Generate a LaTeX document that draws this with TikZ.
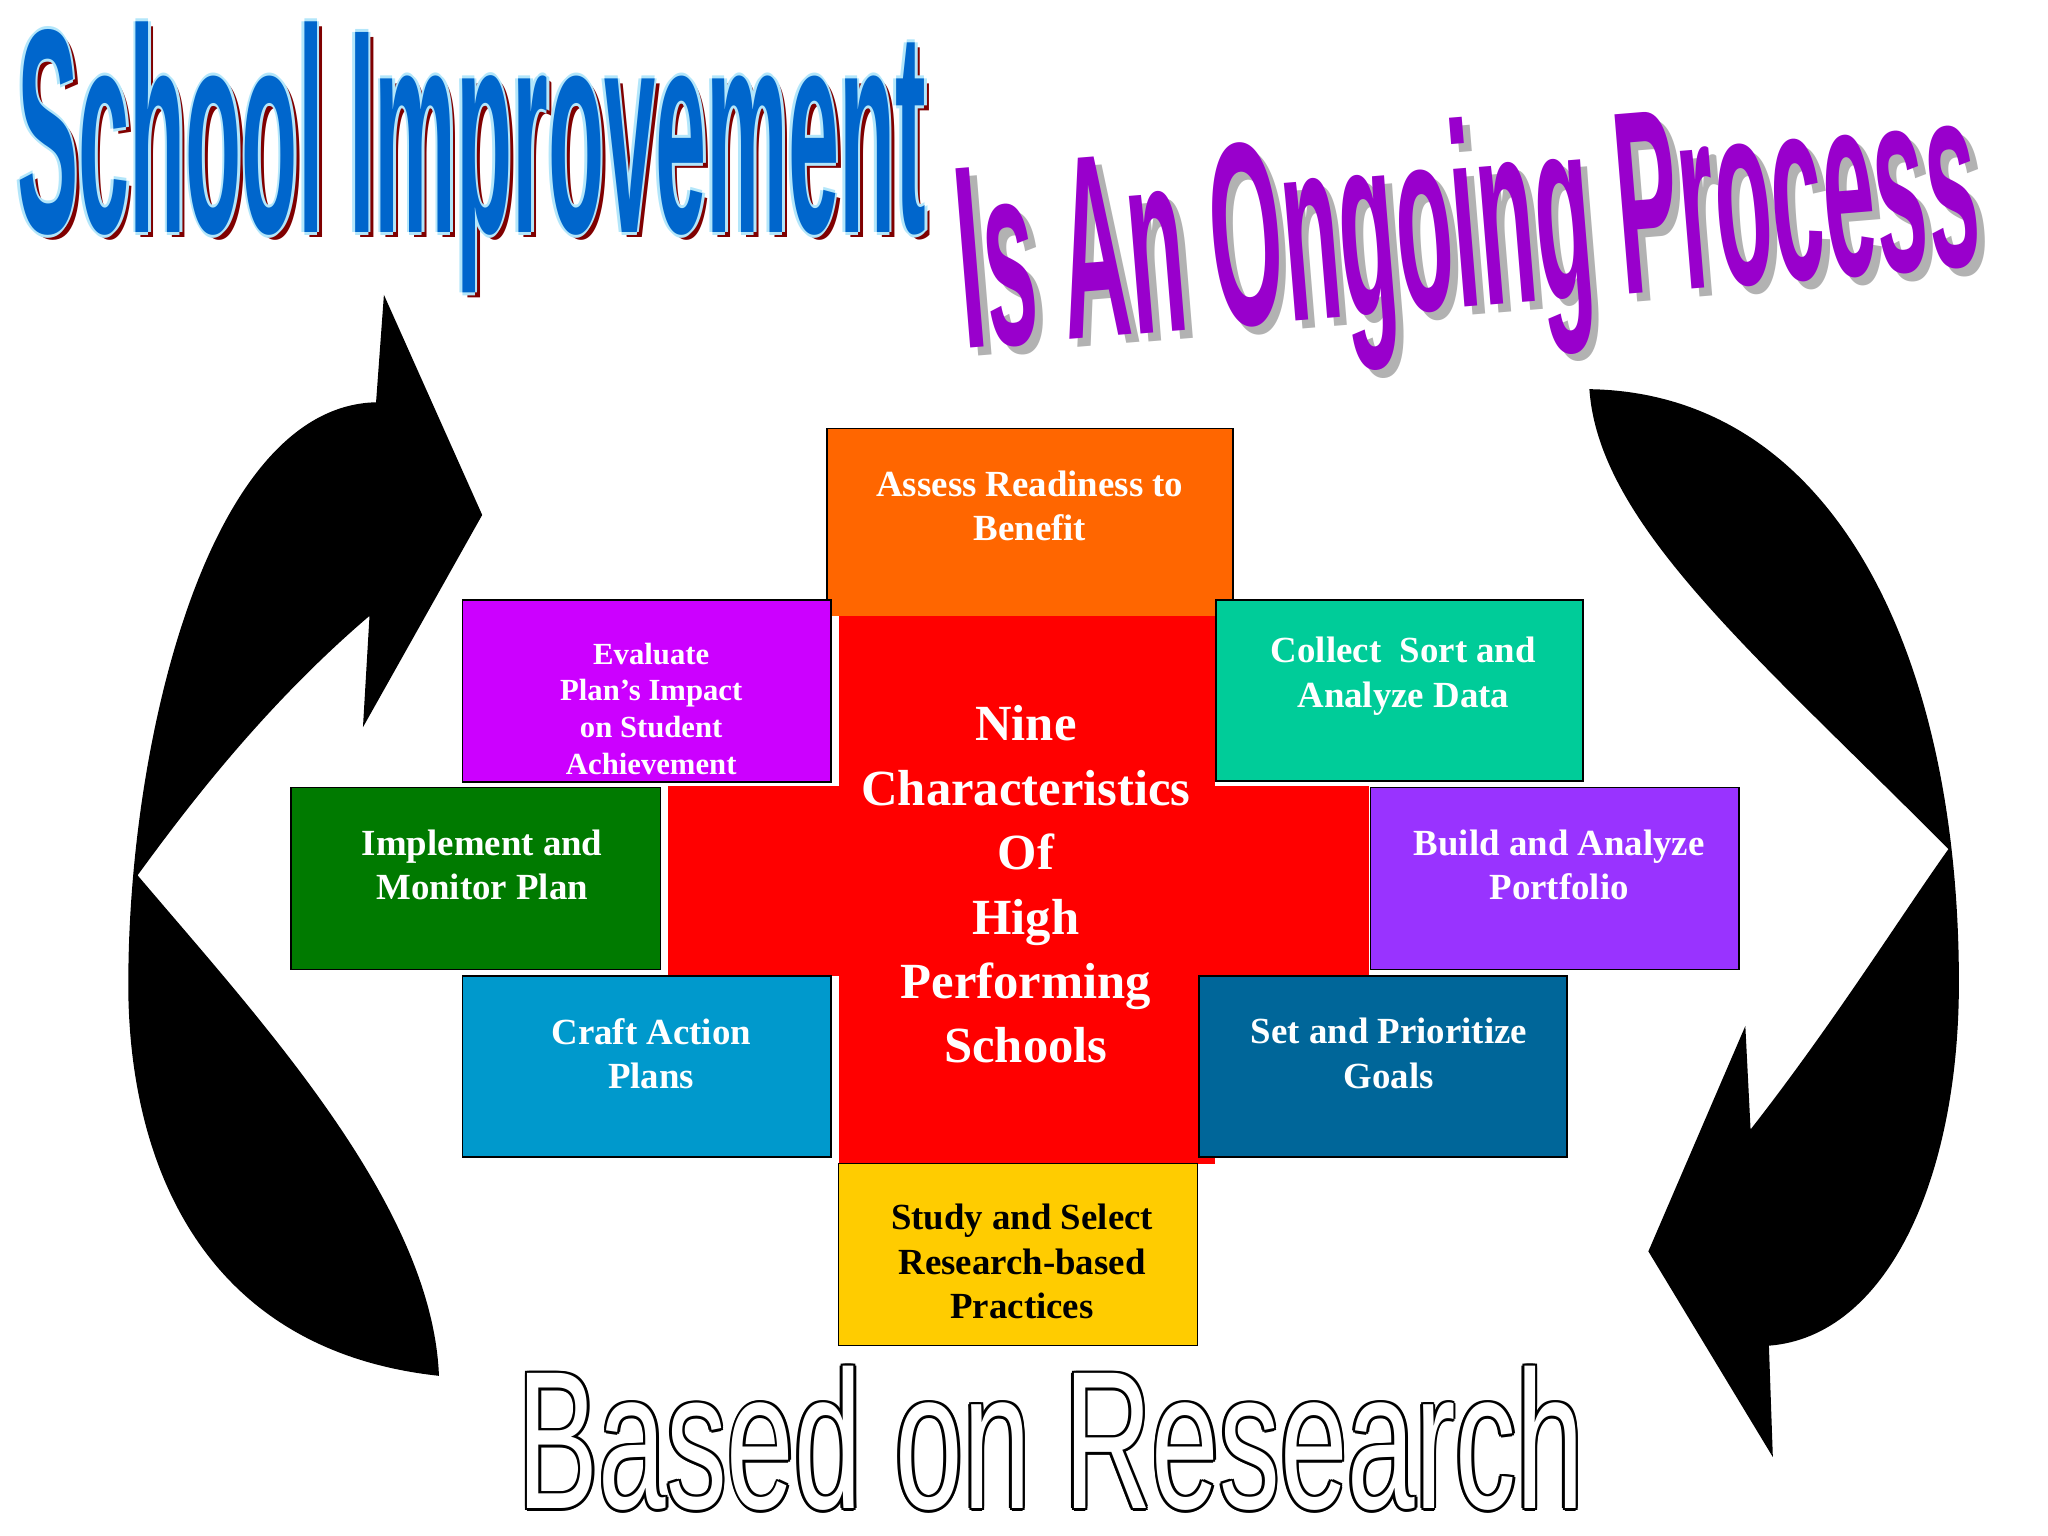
\documentclass[tikz,border=0pt]{standalone}
\usepackage{fontspec}
\setmainfont{Liberation Serif}
\newfontfamily\titlefont{Liberation Sans}
\definecolor{cOrange}{HTML}{FF6600}
\definecolor{cRed}{HTML}{FF0000}
\definecolor{cMag}{HTML}{CC00FF}
\definecolor{cTeal}{HTML}{00CC99}
\definecolor{cGreen}{HTML}{007A00}
\definecolor{cViolet}{HTML}{9933FF}
\definecolor{cSky}{HTML}{0099CC}
\definecolor{cNavy}{HTML}{006699}
\definecolor{cYellow}{HTML}{FFCC00}
\definecolor{cBlue}{HTML}{0066CC}
\definecolor{cPurple}{HTML}{9900CC}
\tikzset{
 box/.style={inner sep=0pt,font=\bfseries\fontsize{24}{29}\selectfont,text=white,align=center},
}
\begin{document}
\begin{tikzpicture}[x=0.03cm,y=-0.03cm]
\useasboundingbox (0,0) rectangle (1563,1172);
% arrows
\fill[black] (335,1050) .. controls (150,1030) and (95,880) .. (98,740)
  .. controls (100,560) and (160,310) .. (287,307) -- (293,225) -- (368,393) -- (277,555) -- (282,470)
  .. controls (200,540) and (140,620) .. (105,668)
  .. controls (200,780) and (330,920) .. (335,1050) -- cycle;
\fill[black] (1213,297) .. controls (1400,300) and (1495,500) .. (1495,750)
  .. controls (1495,900) and (1440,1020) .. (1350,1027) -- (1353,1112) -- (1258,955) -- (1332,783) -- (1336,862)
  .. controls (1400,780) and (1450,700) .. (1487,648)
  .. controls (1340,500) and (1220,400) .. (1213,297) -- cycle;
% center cross
\fill[cRed] (640,470) rectangle (927,888);
\fill[cRed] (510,600) rectangle (1045,745);
\node[font=\bfseries\fontsize{33}{42}\selectfont,text=white,align=center] (center) at (783,675) {Nine\\Characteristics\\Of\\High\\Performing\\Schools};
% boxes
\fill[cOrange] (631,327) rectangle (941,470); \draw[line width=1pt] (631,470) -- (631,327) -- (941,327) -- (941,470);
\node[box] (assess) at (786,386) {Assess Readiness to\\Benefit};
\fill[cMag] (353,458) rectangle (634,597); \draw[line width=1pt] (353,458) rectangle (634,597);
\node[box,font=\bfseries\fontsize{20}{24}\selectfont] (eval) at (497,541) {Evaluate\\Plan’s Impact\\on Student\\Achievement};
\fill[cTeal] (928,458) rectangle (1208,596); \draw[line width=1pt] (928,458) rectangle (1208,596);
\node[box] (collect) at (1071,516) {Collect~ Sort and\\Analyze Data};
\fill[cGreen] (222,601) rectangle (504,740); \draw[line width=1pt] (222,601) rectangle (504,740);
\node[box] (impl) at (368,660) {Implement and\\Monitor Plan};
\fill[cViolet] (1046,601) rectangle (1327,740); \draw[line width=1pt] (1046,601) rectangle (1327,740);
\node[box] (build) at (1190,660) {Build and Analyze\\Portfolio};
\fill[cSky] (353,745) rectangle (634,883); \draw[line width=1pt] (353,745) rectangle (634,883);
\node[box] (craft) at (497,804) {Craft Action\\Plans};
\fill[cNavy] (915,745) rectangle (1196,883); \draw[line width=1pt] (915,745) rectangle (1196,883);
\node[box] (set) at (1060,804) {Set and Prioritize\\Goals};
\fill[cYellow] (640,888) rectangle (914,1027); \draw[line width=1pt] (640,888) rectangle (914,1027);
\node[box,text=black] (study) at (780,963) {Study and Select\\Research-based\\Practices};
% titles
\node[text=red!50!black] at (364,124) {\titlefont\bfseries\resizebox*{20.8cm}{6.2cm}{School Improvement}};
\foreach \dx/\dy in {-2/0,2/0,0/-2,0/2} \node[text=cyan!30] at (360+\dx,120+\dy) {\titlefont\bfseries\resizebox*{20.8cm}{6.2cm}{School Improvement}};
\node[text=cBlue] (t1) at (360,120) {\titlefont\bfseries\resizebox*{20.8cm}{6.2cm}{School Improvement}};
\node[text=gray!60,rotate=4.7] at (1127,189) {\titlefont\bfseries\resizebox*{23.4cm}{5.6cm}{Is An Ongoing Process}};
\node[text=cPurple,rotate=4.7] (t2) at (1121,183) {\titlefont\bfseries\resizebox*{23.4cm}{5.6cm}{Is An Ongoing Process}};
\foreach \dx/\dy in {-2/0,2/0,0/-2,0/2,-1.5/-1.5,1.5/1.5,-1.5/1.5,1.5/-1.5} \node[text=black] at (802+\dx,1098+\dy) {\titlefont\resizebox*{24.4cm}{3.3cm}{Based on Research}};
\node[text=white] (t3) at (802,1098) {\titlefont\resizebox*{24.4cm}{3.3cm}{Based on Research}};
\end{tikzpicture}
\end{document}
